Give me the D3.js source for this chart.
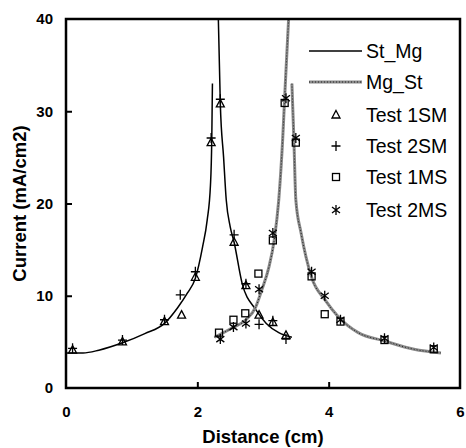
<!DOCTYPE html>
<html>
<head>
<meta charset="utf-8">
<script src="https://cdn.jsdelivr.net/npm/d3@7"></script>
<style>
  body { margin: 0; background: #fff; }
  text { font-family: Arial, "Liberation Sans", sans-serif; }
</style>
</head>
<body>
<div class="chart-container"></div>
<script>
// Model curves (x = distance cm, y = current mA/cm2)
const stMgLeft = [[0,3.8],[0.26,3.8],[0.5,4.1],[0.86,4.9],[1.2,5.9],[1.5,7.0],[1.7,8.7],[1.85,10.3],[1.97,11.9],[2.08,15.3],[2.15,18.2],[2.2,22],[2.22,27],[2.23,33]];
const stMgRight = [[2.32,40],[2.35,30.8],[2.4,25],[2.44,20.4],[2.5,17.5],[2.56,15.8],[2.68,11.4],[2.89,8.5],[3.05,7.0],[3.24,6.0],[3.44,5.5]];
const mgStLeft = [[2.26,5.5],[2.53,6.5],[2.74,7.4],[2.89,8.8],[2.98,10.6],[3.09,13.1],[3.17,16.0],[3.24,20.4],[3.3,27],[3.34,33],[3.39,40]];
const mgStRight = [[3.44,33],[3.47,27],[3.5,20.4],[3.58,16.8],[3.74,12.0],[3.95,9.5],[4.15,7.7],[4.45,6.0],[4.85,5.1],[5.3,4.2],[5.71,3.8]];

// Measured points
const test1SM = [[0.1,4.1],[0.86,5.0],[1.5,7.2],[1.76,7.9],[1.97,12.0],[2.21,26.6],[2.35,30.8],[2.56,15.8],[2.74,11.1],[2.94,7.9],[3.15,7.1],[3.35,5.7]];
const test2SM = [[0.1,4.3],[0.86,5.2],[1.5,7.4],[1.74,10.1],[1.97,12.6],[2.21,27.1],[2.35,31.3],[2.56,16.6],[2.74,11.3],[2.94,6.9],[3.15,7.3],[3.35,5.3]];
const test1MS = [[2.33,6.0],[2.55,7.4],[2.73,8.1],[2.93,12.4],[3.15,16.0],[3.33,30.9],[3.5,26.6],[3.74,12.1],[3.94,8.0],[4.18,7.2],[4.85,5.2],[5.6,4.2]];
const test2MS = [[2.35,5.3],[2.55,6.6],[2.74,7.0],[2.94,10.7],[3.15,16.8],[3.35,31.4],[3.5,27.1],[3.74,12.6],[3.94,10.0],[4.18,7.4],[4.85,5.4],[5.6,4.4]];

const xTicks = [0, 2, 4, 6];
const yTicks = [0, 10, 20, 30, 40];
const legendNames = ['St_Mg', 'Mg_St', 'Test 1SM', 'Test 2SM', 'Test 1MS', 'Test 2MS'];

const margin = { top: 19, right: 6, bottom: 60, left: 66 },
    width = 466 - margin.left - margin.right,
    height = 448 - margin.top - margin.bottom;

const svg = d3.select('.chart-container')
    .append('svg')
    .attr('width', width + margin.left + margin.right)
    .attr('height', height + margin.top + margin.bottom)
    .append('g')
    .attr('transform', `translate(${margin.left},${margin.top})`);

const x = d3.scaleLinear().domain([0, 6]).range([0, width]);
const y = d3.scaleLinear().domain([0, 40]).range([height, 0]);

// Curves
const line = d3.line().x(d => x(d[0])).y(d => y(d[1])).curve(d3.curveMonotoneX);
svg.append('clipPath').attr('id', 'clip')
    .append('rect').attr('width', width).attr('height', height);
const curves = svg.append('g').attr('clip-path', 'url(#clip)');

[stMgLeft, stMgRight].forEach(c => {
    curves.append('path').datum(c)
        .attr('fill', 'none').attr('stroke', '#000').attr('stroke-width', 1.5)
        .attr('d', line);
});
[mgStLeft, mgStRight].forEach(c => {
    curves.append('path').datum(c)
        .attr('fill', 'none').attr('stroke', '#8a8a8a').attr('stroke-width', 3)
        .attr('d', line);
    curves.append('path').datum(c)
        .attr('fill', 'none').attr('stroke', '#222').attr('stroke-width', 1)
        .attr('stroke-dasharray', '1,2')
        .attr('d', line);
});

// Marker shapes
function drawMarker(g, type) {
    if (type === 'tri') {
        g.append('path').attr('d', 'M0,-4.5L4,3L-4,3Z')
            .attr('fill', 'none').attr('stroke', '#000').attr('stroke-width', 1.3);
    } else if (type === 'plus') {
        g.append('path').attr('d', 'M-4.5,0H4.5M0,-5V5')
            .attr('stroke', '#000').attr('stroke-width', 1.3);
    } else if (type === 'square') {
        g.append('rect').attr('x', -3.5).attr('y', -3.5).attr('width', 7).attr('height', 7)
            .attr('fill', 'none').attr('stroke', '#000').attr('stroke-width', 1.3);
    } else if (type === 'star') {
        g.append('path').attr('d', 'M0,-5V5M-4,-3L4,3M-4,3L4,-3')
            .attr('stroke', '#000').attr('stroke-width', 1.3);
    }
}

const sets = [[test1SM, 'tri'], [test2SM, 'plus'], [test1MS, 'square'], [test2MS, 'star']];
sets.forEach(([data, type]) => {
    svg.append('g')
        .selectAll('g')
        .data(data)
        .enter()
        .append('g')
        .attr('transform', d => `translate(${x(d[0])},${y(d[1])})`)
        .each(function () { drawMarker(d3.select(this), type); });
});

// Axes with inward ticks
const xAxis = svg.append('g')
    .attr('transform', `translate(0,${height})`)
    .call(d3.axisBottom(x).tickValues(xTicks).tickSize(-6).tickPadding(18).tickFormat(d3.format('d')));
const yAxis = svg.append('g')
    .call(d3.axisLeft(y).tickValues(yTicks).tickSize(-6).tickPadding(13).tickFormat(d3.format('d')));
[xAxis, yAxis].forEach(a => {
    a.select('.domain').remove();
    a.selectAll('line').attr('stroke', '#000').attr('stroke-width', 2);
    a.selectAll('text').attr('font-size', 15).attr('font-weight', 'bold').attr('fill', '#000');
});
xAxis.selectAll('.tick').filter(d => d === 0 || d === 6).select('line').remove();
yAxis.selectAll('.tick').filter(d => d === 0 || d === 40).select('line').remove();

// Frame
svg.append('rect')
    .attr('width', width).attr('height', height)
    .attr('fill', 'none').attr('stroke', '#000').attr('stroke-width', 2.5);

// Axis titles
svg.append('text')
    .attr('x', width / 2).attr('y', height + 55)
    .attr('text-anchor', 'middle')
    .attr('font-size', 18.5).attr('font-weight', 'bold')
    .text('Distance (cm)');
svg.append('text')
    .attr('transform', `translate(${-40},${height / 2}) rotate(-90)`)
    .attr('text-anchor', 'middle')
    .attr('font-size', 18.5).attr('font-weight', 'bold')
    .text('Current (mA/cm2)');

// Legend
const legendY = [51, 82, 115, 146, 177, 210];
const legend = svg.append('g').attr('transform', `translate(${-margin.left},${-margin.top})`);
legendNames.forEach((name, i) => {
    const ly = legendY[i];
    if (i === 0) {
        legend.append('line').attr('x1', 309).attr('x2', 362).attr('y1', ly).attr('y2', ly)
            .attr('stroke', '#000').attr('stroke-width', 1.5);
    } else if (i === 1) {
        legend.append('line').attr('x1', 309).attr('x2', 362).attr('y1', ly).attr('y2', ly)
            .attr('stroke', '#8a8a8a').attr('stroke-width', 3);
        legend.append('line').attr('x1', 309).attr('x2', 362).attr('y1', ly).attr('y2', ly)
            .attr('stroke', '#222').attr('stroke-width', 1).attr('stroke-dasharray', '1,2');
    } else {
        const g = legend.append('g').attr('transform', `translate(336,${ly})`);
        drawMarker(g, sets[i - 2][1]);
    }
    legend.append('text')
        .attr('x', 366).attr('y', ly).attr('dy', '0.35em')
        .attr('font-size', 19.5)
        .text(name);
});
</script>
</body>
</html>
